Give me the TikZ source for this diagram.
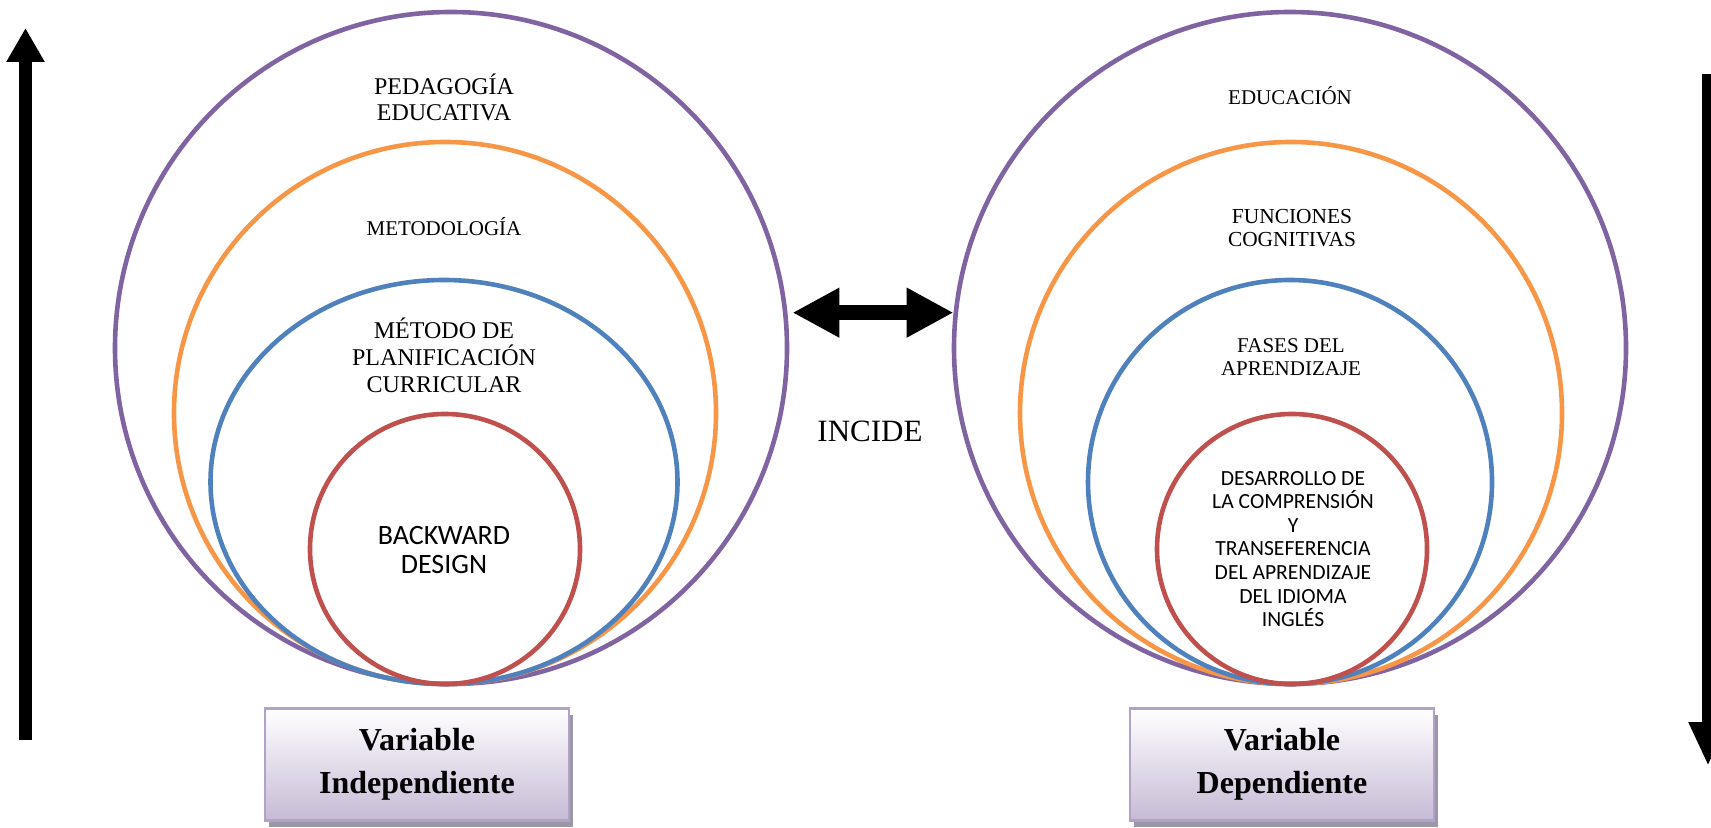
\documentclass[tikz,border=0pt]{standalone}
\usepackage{fontspec}
\setmainfont{Liberation Serif}
\newfontfamily\calibri{Carlito}
\usetikzlibrary{arrows.meta,shapes.geometric,shadows}

\definecolor{violeta}{HTML}{8064A2}
\definecolor{naranja}{HTML}{F79646}
\definecolor{azul}{HTML}{4F81BD}
\definecolor{rojo}{HTML}{C0504D}
\definecolor{lila}{HTML}{C6BAD6}
\definecolor{lilaborde}{HTML}{B3A2C7}
\definecolor{sombra}{HTML}{9C97A6}

\begin{document}
\begin{tikzpicture}[x=0.5pt, y=-0.5pt,
	anillo/.style={draw=#1, circle, line width=2.3pt, inner sep=0pt},
	caja/.style={draw=lilaborde, line width=1.2pt, top color=white, bottom color=lila, minimum width=152pt, minimum height=56pt, align=center, font=\fontsize{16}{21.5}\selectfont\bfseries, drop shadow={shadow xshift=2pt, shadow yshift=-3pt, fill=sombra, opacity=1}},
	flecha/.style={draw=black, line width=6.2pt}]
			\useasboundingbox (0,0) rectangle (1711,828);
			
			\node[anillo=violeta, minimum size=336pt] (ped) at (451, 348) {};
			\node[anillo=naranja, minimum size=271pt] (met) at (445, 413) {};
			\node[anillo=azul, ellipse, minimum width=233.5pt, minimum height=202pt] (pla) at (444, 482) {};
			\node[anillo=rojo, minimum size=135pt] (bd) at (445, 549) {};
			
			\node[anillo=violeta, minimum size=336pt] (edu) at (1290, 348) {};
			\node[anillo=naranja, minimum size=271pt] (fun) at (1291, 413) {};
			\node[anillo=azul, minimum size=202pt] (fas) at (1290, 482) {};
			\node[anillo=rojo, minimum size=135pt] (des) at (1292, 549) {};
			
			\node[font=\fontsize{12}{13}\selectfont, align=center] (tped) at (444, 97) {PEDAGOGÍA\\EDUCATIVA};
			\node[font=\fontsize{10.5}{12}\selectfont] (tmet) at (444, 227) {METODOLOGÍA};
			\node[font=\fontsize{12}{13.5}\selectfont, align=center] (tpla) at (444, 355) {MÉTODO DE\\PLANIFICACIÓN\\CURRICULAR};
			\node[font=\calibri\fontsize{14}{14.5}\selectfont, align=center] (tbd) at (444, 550) {BACKWARD\\DESIGN};
			
			\node[font=\fontsize{10.5}{12}\selectfont] (tedu) at (1290, 96) {EDUCACIÓN};
			\node[font=\fontsize{10.7}{11.5}\selectfont, align=center] (tfun) at (1292, 228) {FUNCIONES\\COGNITIVAS};
			\node[font=\fontsize{10.5}{11.5}\selectfont, align=center] (tfas) at (1291, 357) {FASES DEL\\APRENDIZAJE};
			\node[font=\calibri\fontsize{10.8}{11.8}\selectfont, align=center] (tdes) at (1293, 549) {DESARROLLO DE\\LA COMPRENSIÓN\\Y\\TRANSEFERENCIA\\DEL APRENDIZAJE\\DEL IDIOMA\\INGLÉS};
			
			\node[font=\fontsize{15.5}{18}\selectfont] (inc) at (870, 431) {INCIDE};
			\draw[line width=7.3pt, {Triangle[length=23.5pt, width=23.3pt]}-{Triangle[length=23.5pt, width=23.3pt]}, shorten <=2.5pt] (ped.6) -- (edu.174);
			
			\node[caja] (vi) at (417, 764.5) {Variable\\Independiente};
			\node[caja] (vd) at (1282, 764.5) {Variable\\Dependiente};
			
			% flechas laterales
			\coordinate (ab1) at (25.5, 740);
			\coordinate (ar1) at (25.5, 28);
			\draw[flecha, -{Triangle[length=17pt, width=18pt]}] (ab1) -- (ar1);
			\coordinate (ar2) at (1708, 74);
			\coordinate (ab2) at (1708, 766);
			\draw[flecha, line width=6pt, -{Triangle[length=22pt, width=18pt]}] (ar2) -- (ab2);
			
\end{tikzpicture}
\end{document}
